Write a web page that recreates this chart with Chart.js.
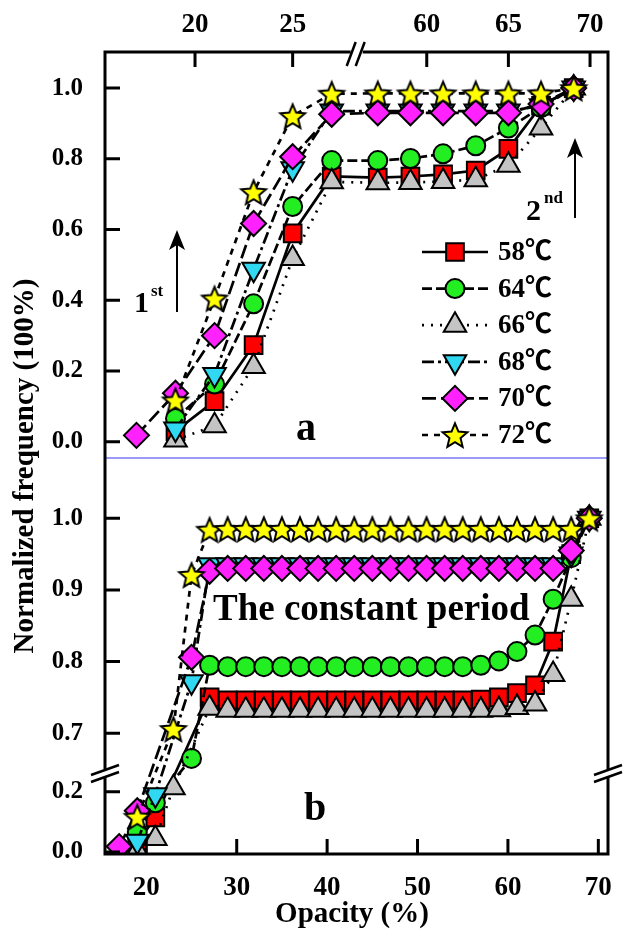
<!DOCTYPE html>
<html lang="en">
<head>
<meta charset="UTF-8">
<title>Normalized frequency vs opacity</title>
<script src="https://cdn.jsdelivr.net/npm/chart.js"></script>
<style>
  body { margin: 0; background: #fff; }
  canvas { display: block; }
</style>
</head>
<body>
<canvas id="chart" width="624" height="930"></canvas>
<script>
// values (opacity %, normalized frequency)
const opacity = [17, 19, 21, 23, 25, 27, 29, 31, 33, 35, 37, 39, 41, 43, 45, 47, 49, 51, 53, 55, 57, 59, 61, 63, 65, 67, 69];

const freq58 = [null, 0.030, 0.115, 0.273, 0.589, 0.750, 0.746, 0.746, 0.746, 0.746, 0.746, 0.746, 0.746, 0.746, 0.746, 0.746, 0.746, 0.746, 0.746, 0.746, 0.747, 0.750, 0.756, 0.767, 0.828, 0.950, 1.0];
const freq64 = [null, 0.066, 0.163, 0.390, 0.665, 0.795, 0.793, 0.793, 0.793, 0.793, 0.793, 0.793, 0.793, 0.793, 0.793, 0.793, 0.793, 0.793, 0.793, 0.793, 0.795, 0.801, 0.814, 0.837, 0.887, 0.945, 1.0];
const freq66 = [null, 0.005, 0.045, 0.213, 0.518, 0.735, 0.732, 0.732, 0.732, 0.732, 0.732, 0.732, 0.732, 0.732, 0.732, 0.732, 0.732, 0.732, 0.732, 0.732, 0.732, 0.733, 0.736, 0.741, 0.782, 0.887, 1.0];
const freq68 = [null, 0.036, 0.190, 0.488, 0.772, 0.935, 0.935, 0.935, 0.935, 0.935, 0.935, 0.935, 0.935, 0.935, 0.935, 0.935, 0.935, 0.935, 0.935, 0.935, 0.935, 0.935, 0.935, 0.935, 0.935, 0.950, 1.0];
const freq70 = [0.018, 0.137, 0.300, 0.617, 0.806, 0.926, 0.930, 0.930, 0.930, 0.930, 0.930, 0.930, 0.930, 0.930, 0.930, 0.930, 0.930, 0.930, 0.930, 0.930, 0.930, 0.930, 0.930, 0.930, 0.930, 0.955, 1.0];
const freq72 = [null, 0.117, 0.405, 0.706, 0.921, 0.984, 0.985, 0.985, 0.985, 0.985, 0.985, 0.985, 0.985, 0.985, 0.985, 0.985, 0.985, 0.985, 0.985, 0.985, 0.985, 0.985, 0.985, 0.985, 0.985, 0.985, 1.0];

const seriesLabels = ['58℃', '64℃', '66℃', '68℃', '70℃', '72℃'];

const xTopTicks = [20, 25, 60, 65, 70];
const xBottomTicks = [20, 30, 40, 50, 60, 70];
const yTopTicks = [0, 0.2, 0.4, 0.6, 0.8, 1.0];
const yBottomTicks = [0, 0.2, 0.7, 0.8, 0.9, 1.0];

const serif = "'Liberation Serif', 'Times New Roman', 'Noto Sans CJK SC', serif";

// broken axes: the value ranges kept on each axis and their share of its length
const axisBreaks = {
  xa: [{min: 15.39, max: 28.28, size: 251.7}, {min: 55.71, max: 71.1, size: 251.3}],
  yb: [{min: -0.0067, max: 0.262, size: 81}, {min: 0.6446, max: 1.0841, size: 315}]
};

function inRange(segs, v) {
  return segs.some(g => v >= g.min && v <= g.max);
}

class BrokenScale extends Chart.LinearScale {
  fraction(value) {
    const segs = axisBreaks[this.id];
    const total = segs.reduce((s, g) => s + g.size, 0);
    let acc = 0;
    for (let i = 0; i < segs.length; i++) {
      const g = segs[i];
      if (value <= g.max || i === segs.length - 1) {
        let t = (value - g.min) / (g.max - g.min);
        if (i > 0 && t < 0) t = 0;
        return (acc + t * g.size) / total;
      }
      acc += g.size;
    }
  }
  getPixelForValue(value) {
    const f = this.fraction(value);
    return this.isHorizontal() ? this.left + f * this.width : this.bottom - f * this.height;
  }
  breakPixels() {
    const segs = axisBreaks[this.id];
    return segs.slice(1).map(g => this.getPixelForValue(g.min));
  }
}
BrokenScale.id = 'broken';
BrokenScale.defaults = Chart.LinearScale.defaults;
Chart.register(BrokenScale);

function makeStar(r) {
  const c = document.createElement('canvas');
  const size = Math.ceil(2 * r + 6);
  c.width = c.height = size;
  const g = c.getContext('2d');
  g.translate(size / 2, size / 2 + r * 0.1);
  g.beginPath();
  for (let k = 0; k < 10; k++) {
    const rr = k % 2 ? r * 0.45 : r;
    const ang = -Math.PI / 2 + k * Math.PI / 5;
    g.lineTo(rr * Math.cos(ang), rr * Math.sin(ang));
  }
  g.closePath();
  g.fillStyle = '#ffff00';
  g.fill();
  g.lineWidth = 2;
  g.strokeStyle = '#000';
  g.stroke();
  return c;
}

const series = [
  {data: freq58, style: 'rect', radius: 12.5, color: '#ff0000', dash: []},
  {data: freq64, style: 'circle', radius: 9.5, color: '#22ee22', dash: [10, 4]},
  {data: freq66, style: 'triangle', radius: 13, color: '#c4c4c4', dash: [2, 7]},
  {data: freq68, style: 'triangle', rotation: 180, radius: 13, color: '#30d8f2', dash: [12, 4, 3, 4]},
  {data: freq70, style: 'rectRot', radius: 12.5, color: '#ff22ff', dash: [14, 5]},
  {data: freq72, style: makeStar(13), radius: 13, color: '#ffff00', dash: [6, 6]}
];

const datasets = [];
series.forEach((s, i) => {
  const common = {
    label: seriesLabels[i],
    borderColor: '#000',
    borderWidth: 2.7,
    borderDash: s.dash,
    pointStyle: s.style,
    pointRotation: s.rotation || 0,
    pointRadius: s.radius,
    pointBackgroundColor: s.color,
    pointBorderColor: '#000',
    pointBorderWidth: 2,
    order: series.length - i,
    fill: false
  };
  // panel a: only the points inside the two kept x ranges
  datasets.push(Object.assign({}, common, {
    xAxisID: 'xa', yAxisID: 'ya',
    data: opacity.map((x, k) => ({x: x, y: s.data[k]})).filter(p => inRange(axisBreaks.xa, p.x))
  }));
  // panel b: values falling into the y gap are hidden
  datasets.push(Object.assign({}, common, {
    xAxisID: 'xb', yAxisID: 'yb', spanGaps: true,
    data: opacity.map((x, k) => ({x: x, y: (s.data[k] !== null && inRange(axisBreaks.yb, s.data[k])) ? s.data[k] : null}))
  }));
});

function axis(ticks, size, pad, fmt, fit) {
  return {
    grid: {display: false},
    border: {display: false},
    ticks: {
      color: '#000', padding: pad, autoSkip: false, maxRotation: 0,
      font: {family: serif, size: size, weight: 'bold'},
      callback: v => fmt(v)
    },
    afterBuildTicks: sc => { sc.ticks = ticks.map(v => ({value: v})); },
    afterFit: fit
  };
}

function drawBreakH(ctx, x, y) {
  ctx.save();
  ctx.strokeStyle = '#fff';
  ctx.lineWidth = 5;
  ctx.beginPath(); ctx.moveTo(x - 6, y); ctx.lineTo(x + 6, y); ctx.stroke();
  ctx.strokeStyle = '#000';
  ctx.lineWidth = 2.5;
  ctx.beginPath();
  ctx.moveTo(x - 10, y + 14); ctx.lineTo(x - 1, y - 10);
  ctx.moveTo(x - 1, y + 14); ctx.lineTo(x + 8, y - 10);
  ctx.stroke();
  ctx.restore();
}

function drawBreakV(ctx, x, y) {
  ctx.save();
  ctx.strokeStyle = '#fff';
  ctx.lineWidth = 6;
  ctx.beginPath(); ctx.moveTo(x, y - 4); ctx.lineTo(x, y + 4); ctx.stroke();
  ctx.strokeStyle = '#000';
  ctx.lineWidth = 2.5;
  ctx.beginPath();
  ctx.moveTo(x - 14, y + 2); ctx.lineTo(x + 14, y - 8);
  ctx.moveTo(x - 14, y + 9); ctx.lineTo(x + 14, y - 1);
  ctx.stroke();
  ctx.restore();
}

function drawArrow(ctx, x, yBase, yTip) {
  ctx.save();
  ctx.lineWidth = 2;
  ctx.beginPath(); ctx.moveTo(x, yBase); ctx.lineTo(x, yTip + 12); ctx.stroke();
  ctx.beginPath();
  ctx.moveTo(x, yTip); ctx.lineTo(x - 8, yTip + 20); ctx.lineTo(x, yTip + 15); ctx.lineTo(x + 8, yTip + 20);
  ctx.closePath();
  ctx.fill();
  ctx.restore();
}

const decor = {
  id: 'decor',
  afterDraw(chart) {
    const {ctx, chartArea: a, scales} = chart;
    const sep = scales.ya.bottom;
    ctx.save();
    ctx.fillStyle = '#000';
    ctx.strokeStyle = '#000';

    // blue separator between the panels
    ctx.strokeStyle = '#7a7af2';
    ctx.lineWidth = 1.5;
    ctx.beginPath(); ctx.moveTo(a.left, sep); ctx.lineTo(a.right, sep); ctx.stroke();

    // frame
    ctx.strokeStyle = '#000';
    ctx.lineWidth = 3;
    ctx.beginPath();
    ctx.moveTo(a.left, a.top); ctx.lineTo(a.right, a.top);
    ctx.moveTo(a.left, a.bottom); ctx.lineTo(a.right, a.bottom);
    ctx.moveTo(a.left, a.top - 1.5); ctx.lineTo(a.left, a.bottom + 1.5);
    ctx.moveTo(a.right, a.top - 1.5); ctx.lineTo(a.right, a.bottom + 1.5);
    ctx.stroke();

    // inward ticks
    ctx.lineWidth = 3;
    ctx.beginPath();
    xTopTicks.forEach(v => { const p = scales.xa.getPixelForValue(v); ctx.moveTo(p, a.top); ctx.lineTo(p, a.top + 15); });
    xBottomTicks.forEach(v => { const p = scales.xb.getPixelForValue(v); ctx.moveTo(p, a.bottom); ctx.lineTo(p, a.bottom - 15); });
    yTopTicks.forEach(v => { const p = scales.ya.getPixelForValue(v); ctx.moveTo(a.left, p); ctx.lineTo(a.left + 15, p); });
    yBottomTicks.forEach(v => { const p = scales.yb.getPixelForValue(v); ctx.moveTo(a.left, p); ctx.lineTo(a.left + 15, p); });
    ctx.stroke();

    // axis breaks
    scales.xa.breakPixels().forEach(p => drawBreakH(ctx, p, a.top));
    scales.yb.breakPixels().forEach(p => { drawBreakV(ctx, a.left, p); drawBreakV(ctx, a.right, p); });

    // axis titles
    ctx.font = 'bold 29px ' + serif;
    ctx.textAlign = 'center';
    ctx.textBaseline = 'alphabetic';
    ctx.fillText('Opacity (%)', 352, 922);
    ctx.save();
    ctx.translate(33, 466);
    ctx.rotate(-Math.PI / 2);
    ctx.fillText('Normalized frequency (100%)', 0, 0);
    ctx.restore();

    // panel labels and notes
    ctx.textAlign = 'left';
    ctx.font = 'bold 40px ' + serif;
    ctx.fillText('a', 296, 440);
    ctx.fillText('b', 304, 820);
    ctx.font = 'bold 37px ' + serif;
    ctx.fillText('The constant period', 213, 620);
    ctx.font = 'bold 30px ' + serif;
    ctx.fillText('1', 134, 312);
    ctx.fillText('2', 526, 220);
    ctx.font = 'bold 17px ' + serif;
    ctx.fillText('st', 151, 296);
    ctx.fillText('nd', 544, 203);
    drawArrow(ctx, 177, 312, 230);
    drawArrow(ctx, 575, 218, 138);

    // legend
    series.forEach((s, i) => {
      const y = 252 + i * 36.6;
      ctx.save();
      ctx.lineWidth = 2.7;
      ctx.setLineDash(s.dash);
      ctx.beginPath(); ctx.moveTo(422, y); ctx.lineTo(488, y); ctx.stroke();
      ctx.setLineDash([]);
      ctx.fillStyle = s.color;
      ctx.strokeStyle = '#000';
      ctx.lineWidth = 2;
      Chart.helpers.drawPoint(ctx, {pointStyle: s.style, rotation: s.rotation || 0, radius: s.radius, borderWidth: 2}, 455, y);
      ctx.restore();
      ctx.font = 'bold 27px ' + serif;
      ctx.textBaseline = 'middle';
      ctx.fillText(seriesLabels[i], 498, y + 1);
      ctx.textBaseline = 'alphabetic';
    });
    ctx.restore();
  }
};

new Chart(document.getElementById('chart'), {
  type: 'line',
  data: {datasets: datasets},
  options: {
    responsive: false,
    animation: false,
    events: [],
    layout: {padding: {left: 0, right: 16, top: 0, bottom: 0}},
    plugins: {legend: {display: false}, tooltip: {enabled: false}},
    scales: {
      xa: Object.assign(axis(xTopTicks, 27, 3, v => String(v), sc => { sc.height = 52; }),
        {type: 'broken', position: 'top', min: 15.39, max: 71.1}),
      xb: Object.assign(axis(xBottomTicks, 27, 10, v => String(v), sc => { sc.height = 76; }),
        {type: 'linear', position: 'bottom', min: 15.43, max: 71.07}),
      yb: Object.assign(axis(yBottomTicks, 25, 14, v => v.toFixed(1), sc => { sc.width = 105; }),
        {type: 'broken', position: 'left', stack: 'left', stackWeight: 396, weight: 0, min: -0.0067, max: 1.0841}),
      ya: Object.assign(axis(yTopTicks, 25, 14, v => v.toFixed(1), sc => { sc.width = 105; }),
        {type: 'linear', position: 'left', stack: 'left', stackWeight: 406, weight: 1, min: -0.046, max: 1.102})
    }
  },
  plugins: [decor]
});
</script>
</body>
</html>
